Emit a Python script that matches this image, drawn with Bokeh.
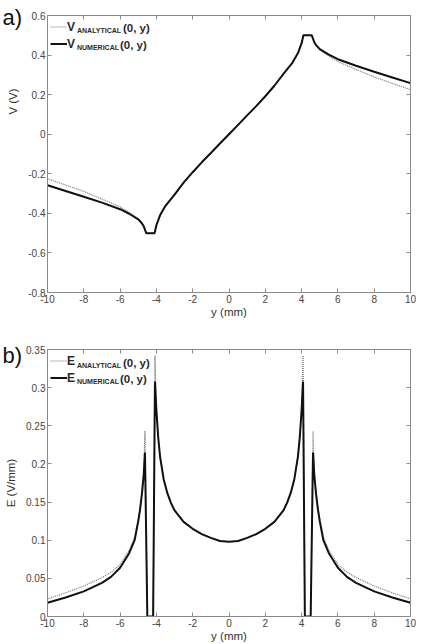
import math
from bokeh.plotting import figure
from bokeh.layouts import column
from bokeh.models import (Label, LinearAxis, FixedTicker, Range1d, Legend,
                          LegendItem, CustomJSTickFormatter, Title)
from bokeh.embed import file_html
from bokeh.resources import INLINE

FONT = "Liberation Sans"

# ---------------- data: a) potential ----------------
y_v = [-10, -9, -8, -7, -6, -5.5, -5, -4.8, -4.7, -4.56, -4.1, -4.0, -3.8, -3.5,
       -3.0, -2.5, -2.0, -1.5, -1.0, -0.5, 0, 0.5, 1.0, 1.5, 2.0, 2.5, 3.0, 3.5,
       3.8, 4.0, 4.1, 4.56, 4.7, 4.8, 5, 5.5, 6, 7, 8, 9, 10]
v_num = [-0.258, -0.287, -0.316, -0.346, -0.379, -0.402, -0.430, -0.450, -0.465, -0.500,
         -0.500, -0.460, -0.410, -0.362, -0.305, -0.245, -0.192, -0.142, -0.095, -0.047,
         0.0, 0.047, 0.095, 0.142, 0.192, 0.245, 0.305, 0.362, 0.410, 0.460, 0.500,
         0.500, 0.465, 0.450, 0.430, 0.402, 0.379, 0.346, 0.316, 0.287, 0.258]
v_ana = [-0.225, -0.257, -0.289, -0.328, -0.367, -0.395, -0.428, -0.450, -0.465, -0.500,
         -0.500, -0.460, -0.410, -0.362, -0.305, -0.245, -0.192, -0.142, -0.095, -0.047,
         0.0, 0.047, 0.095, 0.142, 0.192, 0.245, 0.305, 0.362, 0.410, 0.460, 0.500,
         0.500, 0.465, 0.450, 0.428, 0.395, 0.367, 0.328, 0.289, 0.257, 0.225]

# ---------------- data: b) field ----------------
y_e = [-10, -9, -8, -7, -6.5, -6, -5.5, -5.2, -5.0, -4.9, -4.8, -4.7, -4.63, -4.5,
       -4.18, -4.08, -4.0, -3.9, -3.8, -3.6, -3.4, -3.2, -3.0, -2.5, -2.0, -1.5,
       -1.0, -0.5, 0, 0.5, 1.0, 1.5, 2.0, 2.5, 3.0, 3.2, 3.4, 3.6, 3.8, 3.9, 4.0,
       4.08, 4.18, 4.5, 4.63, 4.7, 4.8, 4.9, 5.0, 5.2, 5.5, 6, 6.5, 7, 8, 9, 10]
e_num = [0.018, 0.025, 0.033, 0.044, 0.052, 0.064, 0.083, 0.100, 0.125, 0.140, 0.160,
         0.185, 0.215, 0.0, 0.0, 0.308, 0.270, 0.235, 0.210, 0.180, 0.162, 0.149,
         0.139, 0.124, 0.115, 0.108, 0.103, 0.099, 0.098, 0.099, 0.103, 0.108, 0.115,
         0.124, 0.139, 0.149, 0.162, 0.180, 0.210, 0.235, 0.270, 0.308, 0.0, 0.0,
         0.215, 0.185, 0.160, 0.140, 0.125, 0.100, 0.083, 0.064, 0.052, 0.044, 0.033,
         0.025, 0.018]
e_ana = [0.023, 0.031, 0.040, 0.051, 0.058, 0.068, 0.087, 0.104, 0.128, 0.143, 0.163,
         0.190, 0.243, 0.0, 0.0, 0.342, 0.275, 0.235, 0.210, 0.180, 0.162, 0.149,
         0.139, 0.124, 0.115, 0.108, 0.103, 0.099, 0.098, 0.099, 0.103, 0.108, 0.115,
         0.124, 0.139, 0.149, 0.162, 0.180, 0.210, 0.235, 0.275, 0.342, 0.0, 0.0,
         0.243, 0.190, 0.163, 0.143, 0.128, 0.104, 0.087, 0.068, 0.058, 0.051, 0.040,
         0.031, 0.023]

x_ticks = [-10, -8, -6, -4, -2, 0, 2, 4, 6, 8, 10]
v_ticks = [-0.8, -0.6, -0.4, -0.2, 0, 0.2, 0.4, 0.6]
e_ticks = [0, 0.05, 0.1, 0.15, 0.2, 0.25, 0.3, 0.35]

FMT = "return String(Math.round(tick*100)/100);"
AX = "#8a8a8a"
TXT = "#444444"


def style_axis(ax, ticks, show_labels):
    ax.ticker = FixedTicker(ticks=ticks)
    ax.major_tick_in = 4
    ax.major_tick_out = 0
    ax.minor_tick_line_color = None
    ax.axis_line_color = AX
    ax.major_tick_line_color = AX
    ax.major_label_text_font = FONT
    ax.major_label_text_color = TXT
    ax.major_label_text_font_size = "10px"
    if show_labels:
        ax.formatter = CustomJSTickFormatter(code=FMT)
        ax.major_label_standoff = 2
    else:
        ax.formatter = CustomJSTickFormatter(code="return '';")
        ax.major_label_standoff = 0
    ax.axis_label_text_font = FONT
    ax.axis_label_text_font_size = "11.5px"
    ax.axis_label_text_font_style = "normal"
    ax.axis_label_text_color = "#333333"


def make_fig(height, yr, yticks, top, right, ylabel, tag, tag_standoff):
    p = figure(width=430, height=height, x_range=Range1d(-10, 10),
               y_range=Range1d(*yr), output_backend="svg", toolbar_location=None,
               min_border_left=47, min_border_right=right, min_border_top=top,
               min_border_bottom=27)
    p.grid.visible = False
    p.outline_line_color = AX
    style_axis(p.xaxis[0], x_ticks, True)
    style_axis(p.yaxis[0], yticks, True)
    p.xaxis[0].axis_label = "y (mm)"
    p.xaxis[0].axis_label_standoff = 0
    if ylabel:
        p.yaxis[0].axis_label = ylabel
        p.yaxis[0].axis_label_standoff = 6
    ax_top = LinearAxis()
    style_axis(ax_top, x_ticks, False)
    p.add_layout(ax_top, "above")
    ax_r = LinearAxis()
    style_axis(ax_r, yticks, False)
    p.add_layout(ax_r, "right")
    p.add_layout(Title(text=tag, align="left", offset=-45, vertical_align="bottom",
                       standoff=tag_standoff, text_font=FONT, text_font_size="22px",
                       text_font_style="normal", text_color="#111111"), "above")
    return p


def add_legend(p, letter, r_ana, r_num):
    leg = Legend(items=[LegendItem(label=letter, renderers=[r_ana]),
                        LegendItem(label=letter, renderers=[r_num])],
                 location="top_left", margin=3, padding=1, spacing=0,
                 glyph_width=17, glyph_height=17, label_height=17,
                 label_width=5, label_standoff=0, border_line_color=None,
                 background_fill_alpha=0, label_text_font=FONT,
                 label_text_font_size="12px", label_text_font_style="bold",
                 label_text_color="#2a2a2a")
    p.add_layout(leg)


def lab(p, x, y, t, size, style="bold"):
    p.add_layout(Label(x=x, y=y, x_units="screen", y_units="screen", text=t,
                       text_font=FONT, text_font_size=size, text_color="#2a2a2a",
                       text_font_style=style, text_baseline="middle"))


def add_text(p, c1, c2):
    (s1, p1), (s2, p2) = c1, c2
    lab(p, 29.5, s1, "ANALYTICAL", "7px")
    lab(p, 75.5, p1, "(0, y)", "11.5px")
    lab(p, 29.5, s2, "NUMERICAL", "7px")
    lab(p, 72.5, p2, "(0, y)", "11.5px")


# ---------------- a) ----------------
pa = make_fig(320, (-0.8, 0.6), v_ticks, 15, 9, None, "a)", -29)
ra = pa.line(y_v, v_ana, line_color="#777777", line_width=1.2, line_dash="1 1")
rn = pa.line(y_v, v_num, line_color="#111111", line_width=2)
add_legend(pa, "V", ra, rn)
add_text(pa, (262, 265), (245, 248))
pa.add_layout(Label(x=12, y=101, x_units="canvas", y_units="canvas", text="V (V)",
                    angle=math.pi / 2, text_align="center", text_baseline="middle",
                    text_font=FONT, text_font_size="11.5px", text_color="#333333"),
              "left")

# ---------------- b) ----------------
pb = make_fig(324, (0, 0.35), e_ticks, 29, 20, "E (V/mm)", "b)", -37)
rb_a = pb.line(y_e, e_ana, line_color="#777777", line_width=1.2, line_dash="1 1")
rb_n = pb.line(y_e, e_num, line_color="#111111", line_width=2)
add_legend(pb, "E", rb_a, rb_n)
add_text(pb, (251.5, 254), (235, 238))

layout = column(pa, pb, spacing=0)
open("out.html", "w").write(file_html(layout, INLINE))
